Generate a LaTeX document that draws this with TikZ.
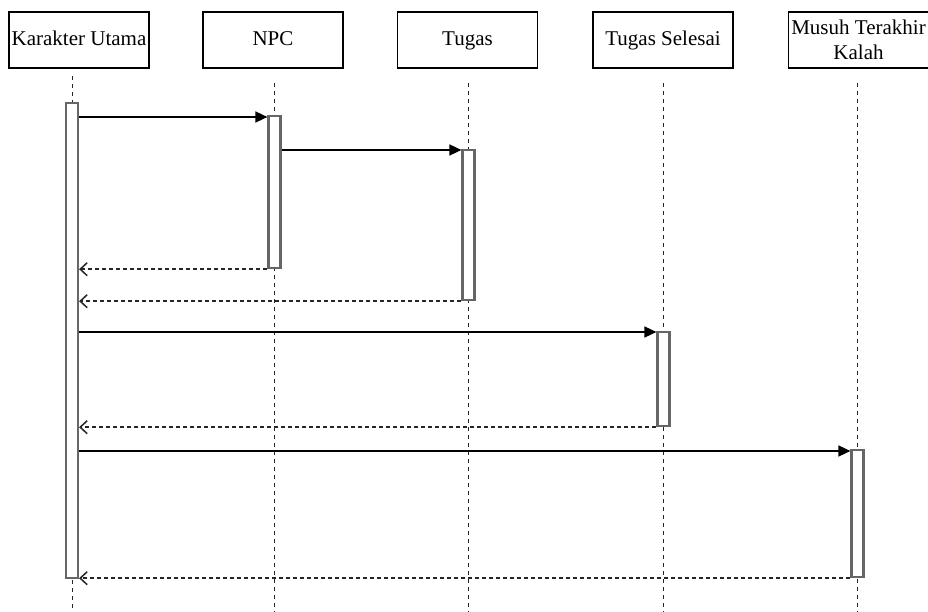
\documentclass[tikz,border=0pt]{standalone}
\usepackage{fontspec}
\setmainfont{Liberation Serif}
\usetikzlibrary{arrows.meta}
\begin{document}
\begin{tikzpicture}[x=1pt,y=-1pt,
  header/.style={draw=black,line width=1.4pt,fill=white,minimum width=140pt,minimum height=56pt,
    inner sep=0pt,align=center,font=\fontsize{21}{25}\selectfont},
  oneline/.style={text height=14pt,text depth=3pt},
  lifeline/.style={draw=black!85,line width=1.4pt,dash pattern=on 4pt off 4pt},
  actbar/.style={draw=black!60,line width=2.2pt,fill=white,minimum width=12pt,inner sep=0pt,anchor=north},
  call/.style={draw=black,line width=1.6pt,-{Triangle[length=12pt,width=11pt]}},
  reply/.style={draw=black!85,line width=1.5pt,dash pattern=on 4pt off 3pt,-{Straight Barb[length=7pt,width=13pt,line width=1.5pt]}}]
\useasboundingbox (0,0) rectangle (928,612);

% participant headers
\node[header,oneline] (hk) at (79,40) {Karakter Utama};
\node[header,oneline] (hn) at (273,40) {NPC};
\node[header,oneline] (ht) at (467.5,40) {Tugas};
\node[header,oneline] (hs) at (663,40) {Tugas Selesai};
\node[header] (hm) at (858.5,40) {Musuh Terakhir\\Kalah};

% lifeline ends
\coordinate (kTop) at (72.5,76);   \coordinate (kBot) at (72.5,612);
\coordinate (nTop) at (274.5,83);  \coordinate (nBot) at (274.5,612);
\coordinate (tTop) at (468.5,83);  \coordinate (tBot) at (468.5,612);
\coordinate (sTop) at (663.5,83);  \coordinate (sBot) at (663.5,612);
\coordinate (mTop) at (857.5,83);  \coordinate (mBot) at (857.5,612);

\draw[lifeline] (kTop) -- (kBot);
\draw[lifeline] (nTop) -- (nBot);
\draw[lifeline] (tTop) -- (tBot);
\draw[lifeline] (sTop) -- (sBot);
\draw[lifeline] (mTop) -- (mBot);

% activation bars
\node[actbar,minimum height=475pt] (ak) at (72,102) {};
\node[actbar,minimum height=152pt] (an) at (274.5,115) {};
\node[actbar,minimum height=150pt] (at) at (468.5,149) {};
\node[actbar,minimum height=94pt]  (as) at (663.5,331) {};
\node[actbar,minimum height=127pt] (am) at (857.5,449) {};

% message entry points, just below the top of each called bar
\coordinate (inN) at ([yshift=-2pt]an.north west);
\coordinate (inT) at ([yshift=-1pt]at.north west);
\coordinate (inS) at ([yshift=-1pt]as.north west);
\coordinate (inM) at ([yshift=-2pt]am.north west);

% messages
\draw[call] (ak.east |- inN) -- (inN);
\draw[call] (an.east |- inT) -- (inT);
\draw[reply] (an.south west) -- (ak.east |- an.south west);
\draw[reply] (at.south west) -- (ak.east |- at.south west);
\draw[call] (ak.east |- inS) -- (inS);
\draw[reply] (as.south west) -- (ak.east |- as.south west);
\draw[call] (ak.east |- inM) -- (inM);
\draw[reply] (am.south west) -- (ak.east |- am.south west);
\end{tikzpicture}
\end{document}
